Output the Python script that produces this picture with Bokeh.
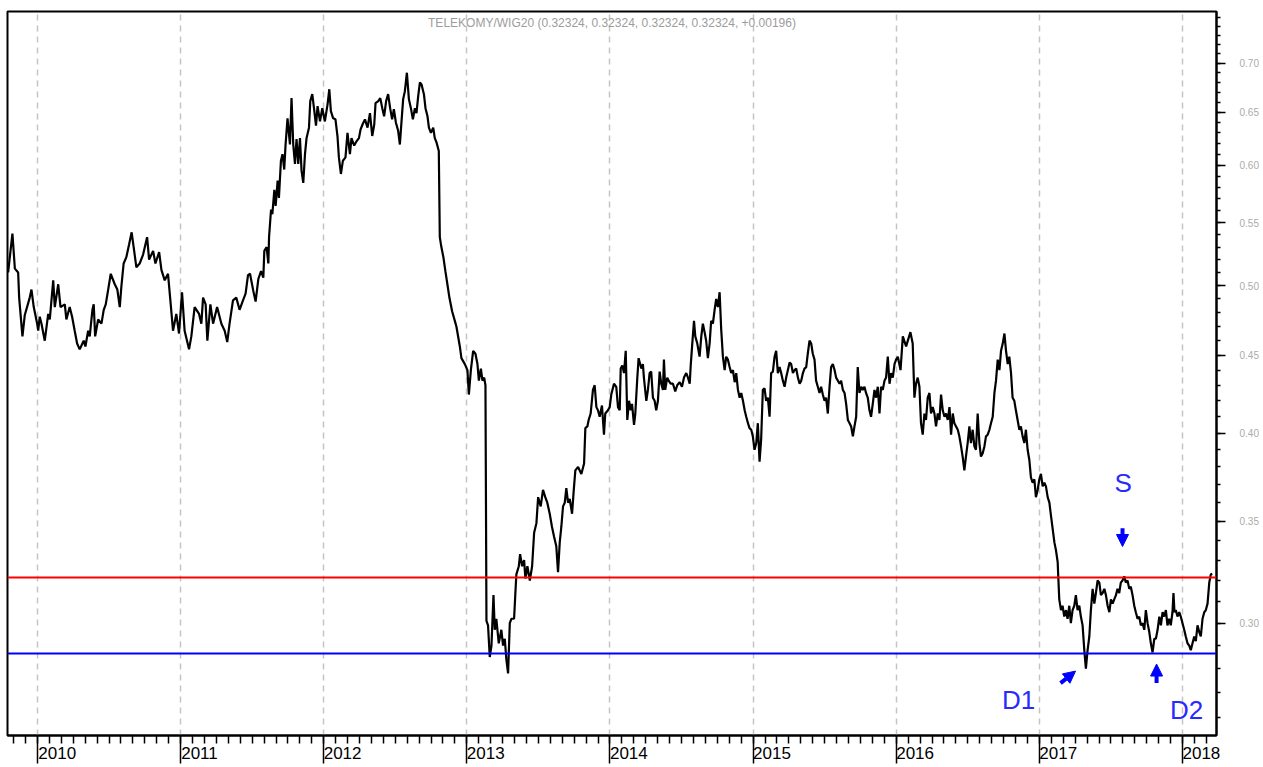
from bokeh.plotting import figure
from bokeh.models import (Range1d, FixedTicker, NumeralTickFormatter, Span, Label,
                          Arrow, NormalHead)
from bokeh.embed import file_html
from bokeh.resources import INLINE

# ---------------- data ----------------
title_text = "TELEKOMY/WIG20 (0.32324, 0.32324, 0.32324, 0.32324, +0.00196)"
years = [2010, 2011, 2012, 2013, 2014, 2015, 2016, 2017, 2018]
year_labels = ["2010", "2011", "2012", "2013", "2014", "2015", "2016", "2017", "2018"]
y_ticks = [0.30, 0.35, 0.40, 0.45, 0.50, 0.55, 0.60, 0.65, 0.70]
resistance = 0.3215
support = 0.2865

# time in decimal years, ratio TELEKOMY / WIG20
t = [
    2009.795, 2009.825, 2009.842, 2009.865, 2009.872, 2009.895, 2009.911, 2009.946, 2009.958, 2009.974,
    2009.998, 2010.005, 2010.016, 2010.028, 2010.051, 2010.075, 2010.086, 2010.110, 2010.121, 2010.145,
    2010.161, 2010.191, 2010.202, 2010.225, 2010.242, 2010.260, 2010.277, 2010.295, 2010.323, 2010.335,
    2010.354, 2010.365, 2010.384, 2010.393, 2010.403, 2010.424, 2010.447, 2010.463, 2010.477, 2010.494,
    2010.512, 2010.540, 2010.558, 2010.575, 2010.586, 2010.602, 2010.621, 2010.640, 2010.658, 2010.672,
    2010.691, 2010.714, 2010.738, 2010.766, 2010.780, 2010.808, 2010.824, 2010.850, 2010.866, 2010.889,
    2010.912, 2010.931, 2010.947, 2010.970, 2010.989, 2011.010, 2011.028, 2011.059, 2011.075, 2011.098,
    2011.129, 2011.145, 2011.157, 2011.175, 2011.187, 2011.208, 2011.227, 2011.255, 2011.285, 2011.308,
    2011.326, 2011.342, 2011.366, 2011.389, 2011.412, 2011.436, 2011.454, 2011.471, 2011.485, 2011.508,
    2011.524, 2011.543, 2011.562, 2011.578, 2011.585, 2011.601, 2011.613, 2011.618, 2011.632, 2011.641,
    2011.655, 2011.664, 2011.678, 2011.687, 2011.701, 2011.712, 2011.724, 2011.733, 2011.747, 2011.764,
    2011.775, 2011.787, 2011.799, 2011.810, 2011.822, 2011.834, 2011.845, 2011.857, 2011.869, 2011.880,
    2011.897, 2011.906, 2011.920, 2011.932, 2011.946, 2011.957, 2011.974, 2011.990, 2012.008, 2012.027,
    2012.039, 2012.050, 2012.066, 2012.082, 2012.096, 2012.106, 2012.120, 2012.134, 2012.152, 2012.166,
    2012.183, 2012.194, 2012.213, 2012.229, 2012.246, 2012.257, 2012.271, 2012.288, 2012.306, 2012.323,
    2012.339, 2012.353, 2012.362, 2012.381, 2012.395, 2012.409, 2012.422, 2012.436, 2012.450, 2012.464,
    2012.478, 2012.490, 2012.504, 2012.520, 2012.532, 2012.543, 2012.555, 2012.567, 2012.581, 2012.595,
    2012.609, 2012.623, 2012.637, 2012.648, 2012.660, 2012.672, 2012.683, 2012.700, 2012.711, 2012.725,
    2012.735, 2012.749, 2012.765, 2012.776, 2012.788, 2012.804, 2012.811, 2012.822, 2012.836, 2012.850,
    2012.864, 2012.878, 2012.897, 2012.916, 2012.927, 2012.951, 2012.962, 2012.986, 2013.004, 2013.014,
    2013.028, 2013.044, 2013.060, 2013.074, 2013.084, 2013.098, 2013.109, 2013.121, 2013.130, 2013.137,
    2013.148, 2013.160, 2013.172, 2013.186, 2013.195, 2013.206, 2013.223, 2013.241, 2013.253, 2013.265,
    2013.276, 2013.288, 2013.300, 2013.311, 2013.330, 2013.339, 2013.346, 2013.363, 2013.372, 2013.386,
    2013.400, 2013.409, 2013.423, 2013.440, 2013.456, 2013.470, 2013.486, 2013.498, 2013.516, 2013.532,
    2013.548, 2013.562, 2013.579, 2013.595, 2013.609, 2013.625, 2013.637, 2013.649, 2013.660, 2013.672,
    2013.684, 2013.695, 2013.707, 2013.719, 2013.735, 2013.747, 2013.758, 2013.777, 2013.800, 2013.819,
    2013.828, 2013.842, 2013.851, 2013.865, 2013.881, 2013.893, 2013.905, 2013.916, 2013.928, 2013.944,
    2013.958, 2013.967, 2013.986, 2013.998, 2014.009, 2014.028, 2014.044, 2014.056, 2014.068, 2014.075,
    2014.086, 2014.098, 2014.110, 2014.121, 2014.133, 2014.145, 2014.154, 2014.168, 2014.177, 2014.191,
    2014.200, 2014.219, 2014.230, 2014.237, 2014.254, 2014.265, 2014.277, 2014.288, 2014.300, 2014.312,
    2014.323, 2014.335, 2014.347, 2014.358, 2014.370, 2014.377, 2014.386, 2014.400, 2014.410, 2014.424,
    2014.440, 2014.456, 2014.470, 2014.487, 2014.503, 2014.517, 2014.533, 2014.545, 2014.557, 2014.564,
    2014.575, 2014.587, 2014.596, 2014.610, 2014.626, 2014.638, 2014.649, 2014.661, 2014.672, 2014.684,
    2014.696, 2014.707, 2014.719, 2014.731, 2014.742, 2014.754, 2014.766, 2014.777, 2014.789, 2014.801,
    2014.812, 2014.824, 2014.836, 2014.847, 2014.859, 2014.871, 2014.882, 2014.894, 2014.906, 2014.917,
    2014.929, 2014.941, 2014.952, 2014.964, 2014.975, 2014.987, 2014.998, 2015.010, 2015.022, 2015.033,
    2015.045, 2015.056, 2015.068, 2015.080, 2015.091, 2015.103, 2015.115, 2015.126, 2015.138, 2015.150,
    2015.161, 2015.173, 2015.185, 2015.196, 2015.208, 2015.220, 2015.231, 2015.243, 2015.255, 2015.266,
    2015.278, 2015.290, 2015.301, 2015.313, 2015.325, 2015.336, 2015.348, 2015.359, 2015.371, 2015.382,
    2015.394, 2015.406, 2015.417, 2015.429, 2015.440, 2015.452, 2015.464, 2015.475, 2015.487, 2015.499,
    2015.510, 2015.522, 2015.534, 2015.545, 2015.557, 2015.569, 2015.580, 2015.604, 2015.615, 2015.627,
    2015.639, 2015.650, 2015.662, 2015.674, 2015.685, 2015.697, 2015.708, 2015.720, 2015.731, 2015.743,
    2015.755, 2015.766, 2015.778, 2015.789, 2015.801, 2015.813, 2015.824, 2015.836, 2015.848, 2015.859,
    2015.871, 2015.883, 2015.894, 2015.906, 2015.918, 2015.929, 2015.941, 2015.953, 2015.964, 2015.976,
    2015.988, 2015.999, 2016.011, 2016.030, 2016.046, 2016.069, 2016.081, 2016.099, 2016.115, 2016.127,
    2016.138, 2016.150, 2016.162, 2016.173, 2016.185, 2016.197, 2016.208, 2016.220, 2016.232, 2016.243,
    2016.255, 2016.267, 2016.278, 2016.290, 2016.302, 2016.313, 2016.325, 2016.337, 2016.348, 2016.360,
    2016.372, 2016.383, 2016.395, 2016.406, 2016.418, 2016.430, 2016.441, 2016.453, 2016.464, 2016.476,
    2016.487, 2016.499, 2016.511, 2016.522, 2016.534, 2016.546, 2016.557, 2016.569, 2016.581, 2016.592,
    2016.604, 2016.616, 2016.627, 2016.639, 2016.651, 2016.662, 2016.674, 2016.686, 2016.697, 2016.709,
    2016.721, 2016.732, 2016.744, 2016.756, 2016.767, 2016.779, 2016.790, 2016.802, 2016.813, 2016.825,
    2016.836, 2016.848, 2016.860, 2016.871, 2016.883, 2016.895, 2016.906, 2016.918, 2016.930, 2016.941,
    2016.953, 2016.965, 2016.976, 2016.988, 2017.000, 2017.011, 2017.023, 2017.035, 2017.046, 2017.058,
    2017.070, 2017.081, 2017.093, 2017.105, 2017.116, 2017.128, 2017.132, 2017.139, 2017.151, 2017.162,
    2017.174, 2017.186, 2017.197, 2017.209, 2017.220, 2017.232, 2017.244, 2017.255, 2017.267, 2017.279,
    2017.290, 2017.302, 2017.314, 2017.325, 2017.337, 2017.349, 2017.360, 2017.372, 2017.384, 2017.395,
    2017.407, 2017.419, 2017.430, 2017.442, 2017.454, 2017.465, 2017.477, 2017.489, 2017.500, 2017.512,
    2017.523, 2017.535, 2017.546, 2017.558, 2017.569, 2017.581, 2017.593, 2017.604, 2017.616, 2017.628,
    2017.639, 2017.651, 2017.663, 2017.674, 2017.686, 2017.698, 2017.709, 2017.721, 2017.733, 2017.744,
    2017.756, 2017.768, 2017.779, 2017.791, 2017.803, 2017.814, 2017.826, 2017.838, 2017.849, 2017.861,
    2017.872, 2017.884, 2017.895, 2017.907, 2017.918, 2017.930, 2017.937, 2017.944, 2017.953, 2017.965,
    2017.977, 2017.988, 2018.000, 2018.012, 2018.023, 2018.035, 2018.047, 2018.058, 2018.070, 2018.082,
    2018.093, 2018.105, 2018.117, 2018.128, 2018.140, 2018.152, 2018.163, 2018.175, 2018.187, 2018.198,
    2018.208,
]

ratio = [
    0.510, 0.541, 0.513, 0.510, 0.491, 0.463, 0.478, 0.491, 0.497, 0.484,
    0.472, 0.467, 0.477, 0.472, 0.460, 0.479, 0.475, 0.504, 0.484, 0.501,
    0.484, 0.486, 0.475, 0.484, 0.477, 0.467, 0.458, 0.454, 0.460, 0.456,
    0.467, 0.463, 0.482, 0.486, 0.463, 0.475, 0.472, 0.482, 0.486, 0.497,
    0.509, 0.501, 0.497, 0.484, 0.499, 0.517, 0.522, 0.532, 0.542, 0.530,
    0.514, 0.517, 0.524, 0.538, 0.520, 0.527, 0.517, 0.526, 0.512, 0.504,
    0.509, 0.486, 0.467, 0.479, 0.465, 0.495, 0.467, 0.454, 0.463, 0.484,
    0.479, 0.472, 0.491, 0.486, 0.460, 0.486, 0.472, 0.484, 0.472, 0.467,
    0.459, 0.472, 0.489, 0.491, 0.482, 0.489, 0.494, 0.508, 0.509, 0.496,
    0.488, 0.505, 0.511, 0.506, 0.527, 0.530, 0.517, 0.538, 0.561, 0.557,
    0.578, 0.564, 0.586, 0.571, 0.604, 0.610, 0.596, 0.618, 0.644, 0.619,
    0.664, 0.619, 0.601, 0.624, 0.601, 0.625, 0.595, 0.584, 0.610, 0.625,
    0.635, 0.661, 0.668, 0.654, 0.637, 0.656, 0.641, 0.654, 0.641, 0.658,
    0.673, 0.651, 0.644, 0.643, 0.627, 0.607, 0.592, 0.604, 0.607, 0.630,
    0.610, 0.625, 0.618, 0.622, 0.625, 0.633, 0.638, 0.643, 0.635, 0.649,
    0.627, 0.638, 0.659, 0.661, 0.664, 0.654, 0.646, 0.661, 0.668, 0.654,
    0.643, 0.653, 0.640, 0.632, 0.619, 0.640, 0.663, 0.671, 0.690, 0.663,
    0.654, 0.643, 0.654, 0.649, 0.666, 0.680, 0.678, 0.668, 0.654, 0.646,
    0.635, 0.630, 0.635, 0.625, 0.621, 0.613, 0.538, 0.530, 0.522, 0.511,
    0.501, 0.491, 0.481, 0.474, 0.470, 0.456, 0.448, 0.444, 0.440, 0.424,
    0.440, 0.453, 0.451, 0.444, 0.433, 0.441, 0.433, 0.435, 0.430, 0.301,
    0.299, 0.285, 0.290, 0.313, 0.297, 0.302, 0.291, 0.297, 0.290, 0.293,
    0.284, 0.278, 0.300, 0.302, 0.302, 0.314, 0.323, 0.327, 0.333, 0.327,
    0.330, 0.321, 0.327, 0.320, 0.327, 0.344, 0.349, 0.363, 0.358, 0.367,
    0.363, 0.360, 0.354, 0.347, 0.342, 0.337, 0.324, 0.339, 0.347, 0.358,
    0.360, 0.368, 0.360, 0.362, 0.354, 0.367, 0.378, 0.380, 0.376, 0.382,
    0.403, 0.404, 0.408, 0.412, 0.427, 0.430, 0.416, 0.414, 0.410, 0.417,
    0.399, 0.412, 0.414, 0.416, 0.424, 0.431, 0.429, 0.416, 0.414, 0.441,
    0.443, 0.438, 0.453, 0.408, 0.420, 0.414, 0.418, 0.405, 0.412, 0.435,
    0.448, 0.441, 0.444, 0.435, 0.420, 0.427, 0.438, 0.439, 0.422, 0.420,
    0.414, 0.420, 0.439, 0.431, 0.427, 0.447, 0.427, 0.435, 0.433, 0.431,
    0.431, 0.426, 0.430, 0.432, 0.429, 0.435, 0.438, 0.435, 0.431, 0.443,
    0.458, 0.474, 0.463, 0.458, 0.449, 0.463, 0.472, 0.466, 0.460, 0.448,
    0.458, 0.474, 0.472, 0.482, 0.490, 0.484, 0.495, 0.468, 0.449, 0.440,
    0.449, 0.447, 0.442, 0.438, 0.440, 0.432, 0.438, 0.427, 0.422, 0.425,
    0.420, 0.414, 0.410, 0.406, 0.403, 0.402, 0.398, 0.390, 0.394, 0.406,
    0.383, 0.396, 0.427, 0.428, 0.420, 0.422, 0.410, 0.438, 0.439, 0.449,
    0.453, 0.438, 0.442, 0.438, 0.433, 0.429, 0.435, 0.440, 0.445, 0.444,
    0.438, 0.440, 0.441, 0.435, 0.431, 0.433, 0.438, 0.441, 0.442, 0.451,
    0.460, 0.458, 0.451, 0.447, 0.433, 0.429, 0.425, 0.429, 0.424, 0.420,
    0.422, 0.412, 0.429, 0.442, 0.444, 0.440, 0.435, 0.431, 0.433, 0.427,
    0.425, 0.418, 0.408, 0.406, 0.404, 0.398, 0.404, 0.410, 0.442, 0.425,
    0.429, 0.427, 0.429, 0.425, 0.422, 0.414, 0.410, 0.418, 0.427, 0.422,
    0.429, 0.412, 0.429, 0.427, 0.433, 0.435, 0.449, 0.431, 0.438, 0.435,
    0.444, 0.447, 0.449, 0.440, 0.463, 0.456, 0.460, 0.466, 0.458, 0.422,
    0.431, 0.435, 0.429, 0.406, 0.399, 0.412, 0.408, 0.422, 0.425, 0.412,
    0.416, 0.412, 0.404, 0.412, 0.408, 0.424, 0.414, 0.410, 0.412, 0.408,
    0.416, 0.399, 0.412, 0.406, 0.404, 0.402, 0.398, 0.392, 0.386, 0.378,
    0.386, 0.394, 0.404, 0.394, 0.402, 0.392, 0.390, 0.412, 0.394, 0.386,
    0.388, 0.392, 0.398, 0.399, 0.402, 0.406, 0.410, 0.425, 0.433, 0.447,
    0.440, 0.453, 0.458, 0.465, 0.453, 0.444, 0.449, 0.438, 0.422, 0.420,
    0.414, 0.408, 0.402, 0.404, 0.398, 0.394, 0.402, 0.390, 0.384, 0.374,
    0.371, 0.373, 0.363, 0.367, 0.373, 0.376, 0.369, 0.371, 0.369, 0.363,
    0.360, 0.353, 0.346, 0.339, 0.335, 0.329, 0.322, 0.311, 0.306, 0.308,
    0.303, 0.306, 0.302, 0.308, 0.300, 0.306, 0.308, 0.313, 0.306, 0.308,
    0.303, 0.299, 0.288, 0.280, 0.288, 0.294, 0.306, 0.316, 0.309, 0.314,
    0.320, 0.319, 0.313, 0.314, 0.316, 0.313, 0.308, 0.305, 0.311, 0.309,
    0.311, 0.313, 0.316, 0.314, 0.319, 0.320, 0.322, 0.319, 0.320, 0.316,
    0.317, 0.313, 0.308, 0.305, 0.302, 0.303, 0.299, 0.300, 0.297, 0.306,
    0.300, 0.296, 0.291, 0.287, 0.293, 0.293, 0.297, 0.303, 0.299, 0.305,
    0.303, 0.306, 0.299, 0.302, 0.299, 0.305, 0.314, 0.305, 0.306, 0.303,
    0.305, 0.303, 0.300, 0.297, 0.294, 0.291, 0.290, 0.288, 0.291, 0.294,
    0.292, 0.299, 0.296, 0.294, 0.302, 0.305, 0.306, 0.309, 0.319, 0.323,
    0.32324,
]

# annotation texts and anchor points (decimal year, ratio)
note_texts = ["S", "D1", "D2"]
note_x = [2017.585, 2016.855, 2018.028]
note_y = [0.371, 0.267, 0.263]
# arrows: (x_start, y_start, x_end, y_end)
arrows = [
    (2017.581, 0.3463, 2017.581, 0.3369),   # down arrow under S
    (2017.148, 0.2740, 2017.253, 0.2790),   # diagonal arrow to D1 low
    (2017.819, 0.2740, 2017.819, 0.2820),   # up arrow to D2 low
]

x_start, x_end = 2009.7906, 2018.2376
y_low, y_high = 0.2531, 0.757
title_y = 0.7438

n = min(len(t), len(ratio))

# ---------------- figure ----------------
p = figure(width=1261, height=765,
           x_range=Range1d(x_start, x_end), y_range=Range1d(y_low, y_high),
           y_axis_type="log", y_axis_location="right",
           output_backend="svg", toolbar_location=None,
           min_border_left=7, min_border_top=11, min_border_bottom=0, min_border_right=0,
           background_fill_color="white", border_fill_color="white",
           outline_line_color="black", outline_line_width=2)

# x axis (bottom) - years as majors, months as minors
xa = p.xaxis[0]
month_ticks = [yy + m / 12.0 for yy in range(2009, 2019) for m in range(12)]
xa.ticker = FixedTicker(ticks=years, minor_ticks=month_ticks)
pad = "\u00a0" * 8
xa.major_label_overrides = {yy: pad + lbl for yy, lbl in zip(years, year_labels)}
xa.axis_line_color = "black"
xa.axis_line_width = 2
xa.major_tick_in = 0
xa.major_tick_out = 28
xa.minor_tick_in = 0
xa.minor_tick_out = 8
xa.major_tick_line_width = 1.5
xa.minor_tick_line_width = 1.5
xa.major_tick_line_color = "black"
xa.minor_tick_line_color = "black"
xa.major_label_standoff = -20
xa.major_label_text_font = "Liberation Sans"
xa.major_label_text_font_size = "17px"
xa.major_label_text_color = "black"

# y axis (right, log)
ya = p.yaxis[0]
minor_y = [round(0.26 + 0.01 * i, 2) for i in range(51)]
ya.ticker = FixedTicker(ticks=y_ticks, minor_ticks=minor_y)
ya.formatter = NumeralTickFormatter(format="0.00")
ya.axis_line_color = "black"
ya.axis_line_width = 2
ya.major_tick_in = 0
ya.major_tick_out = 9
ya.minor_tick_in = 0
ya.minor_tick_out = 4
ya.major_tick_line_width = 1.5
ya.minor_tick_line_width = 1.5
ya.major_label_standoff = 14
ya.major_label_text_font = "Liberation Sans"
ya.major_label_text_font_size = "10px"
ya.major_label_text_color = "#ababab"

# grid
p.xgrid.grid_line_color = "#c4c4c4"
p.xgrid.grid_line_dash = "6 5"
p.xgrid.grid_line_width = 1.5
p.ygrid.visible = False

# levels
p.add_layout(Span(location=resistance, dimension="width", line_color="#ff0000", line_width=2))
p.add_layout(Span(location=support, dimension="width", line_color="#0000ff", line_width=2))

# price ratio line
p.line(t[:n], ratio[:n], line_color="black", line_width=2.2)

# header text
p.add_layout(Label(x=(x_start + x_end) / 2, y=title_y, text=title_text,
                   text_align="center", text_baseline="middle",
                   text_font="Liberation Sans", text_font_size="12px",
                   text_color="#9c9c9c"))

# notes
for txt, nx, ny in zip(note_texts, note_x, note_y):
    p.add_layout(Label(x=nx, y=ny, text=txt, text_align="center", text_baseline="middle",
                       text_font="Liberation Sans", text_font_size="26px",
                       text_color="#2a2aff"))

for (xs, ys, xe, ye) in arrows:
    p.add_layout(Arrow(end=NormalHead(size=12, fill_color="#0000ff", line_color="#0000ff"),
                       x_start=xs, y_start=ys, x_end=xe, y_end=ye,
                       line_color="#0000ff", line_width=4))

open("out.html", "w").write(file_html(p, INLINE))
